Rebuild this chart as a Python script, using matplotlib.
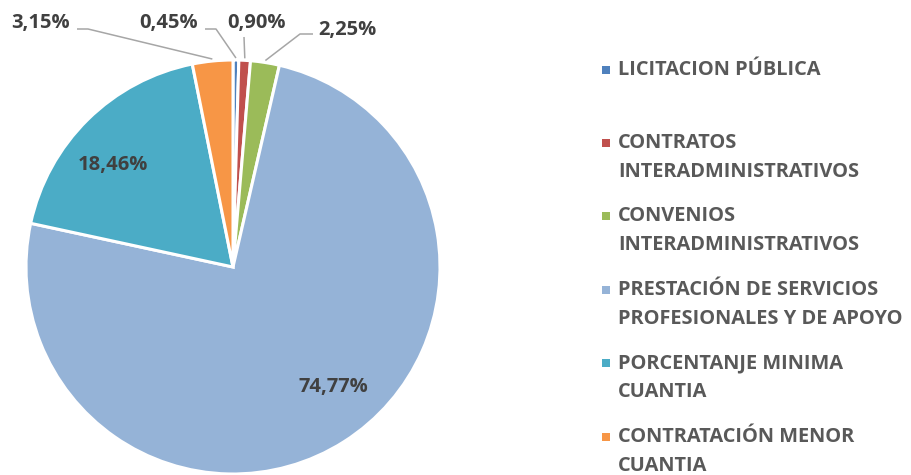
import numpy as np
import matplotlib
matplotlib.use("Agg")
import matplotlib.pyplot as plt

W, H = 911, 475
DPI = 100

categories = [
    "LICITACION PÚBLICA",
    "CONTRATOS\nINTERADMINISTRATIVOS",
    "CONVENIOS\nINTERADMINISTRATIVOS",
    "PRESTACIÓN DE SERVICIOS\nPROFESIONALES Y DE APOYO",
    "PORCENTANJE MINIMA\nCUANTIA",
    "CONTRATACIÓN MENOR\nCUANTIA",
]
values = [0.45, 0.90, 2.25, 74.77, 18.46, 3.15]
labels = ["0,45%", "0,90%", "2,25%", "74,77%", "18,46%", "3,15%"]
colors = ["#4F81BD", "#C0504D", "#9BBB59", "#95B3D7", "#4BACC6", "#F79646"]

FONT = "Open Sans"
LABEL_COLOR = "#404040"
LEGEND_COLOR = "#595959"

fig = plt.figure(figsize=(W / DPI, H / DPI), dpi=DPI)
ax = fig.add_axes([0, 0, 1, 1])

cx, cy, R = 233, H - 267, 207
wedges, _ = ax.pie(values, colors=colors, startangle=90, counterclock=False,
                   center=(cx, cy), radius=R,
                   wedgeprops=dict(edgecolor="white", linewidth=2.2))
ax.set_xlim(0, W)
ax.set_ylim(0, H)
ax.set_aspect("equal")
ax.axis("off")

inside = {3: (333, 387), 4: (113, 165)}
outside = {
    0: dict(txt=(169, 23), line=[(205, 29), (216, 29)]),
    1: dict(txt=(257, 23), line=[(244, 37)]),
    2: dict(txt=(347, 30), line=[(313, 34), (300, 34)]),
    5: dict(txt=(41, 23), line=[(77, 29), (88, 29)]),
}

fs = 14.5
for i, w in enumerate(wedges):
    mid = np.deg2rad((w.theta1 + w.theta2) / 2)
    if i in inside:
        x, y = inside[i]
    else:
        o = outside[i]
        ex, ey = cx + (R + 2) * np.cos(mid), cy + (R + 2) * np.sin(mid)
        pts = [(px, H - py) for px, py in o["line"]] + [(ex, ey)]
        xs, ys = zip(*pts)
        ax.plot(xs, ys, color="#A6A6A6", lw=1.1, solid_capstyle="butt")
        x, y = o["txt"]
    ax.text(x, H - y, labels[i], ha="center", va="center", fontsize=fs,
            fontweight="bold", color=LABEL_COLOR, family=FONT)

leg_y = [70, 143, 216, 290, 363, 437]
line_gap = 29
for i, cat in enumerate(categories):
    y0 = leg_y[i]
    ax.add_patch(plt.Rectangle((602, H - y0 - 4), 8, 8, color=colors[i], lw=0))
    for j, line in enumerate(cat.split("\n")):
        ax.text(618, H - (y0 + j * line_gap), line, ha="left", va="center",
                fontsize=14.4, fontweight="bold", color=LEGEND_COLOR, family=FONT)

fig.savefig("out.png", dpi=DPI)
